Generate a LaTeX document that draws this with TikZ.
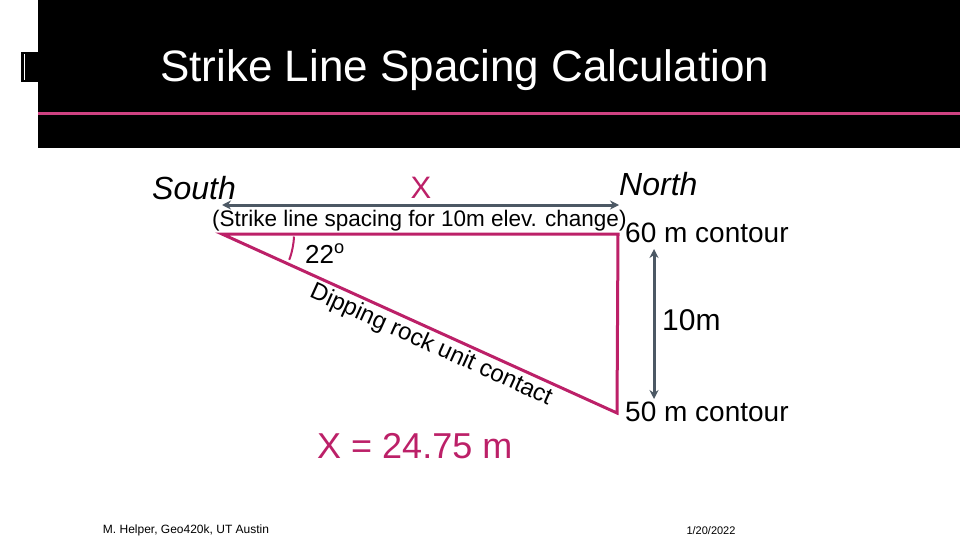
\documentclass[tikz,border=0pt]{standalone}
\usepackage{fontspec}
\setmainfont{Liberation Sans}
\usetikzlibrary{arrows.meta}
\definecolor{pinkline}{RGB}{206,66,130}
\definecolor{magentaC}{RGB}{188,32,104}
\definecolor{slate}{RGB}{76,88,100}
\tikzset{
  txt/.style={inner sep=0pt, anchor=base west},
  ctr/.style={inner sep=0pt, anchor=base},
  grayarrow/.style={slate, line width=3pt, {Stealth[length=9pt,width=9pt]}-{Stealth[length=9pt,width=9pt]}},
  triline/.style={magentaC, line width=3pt, line join=miter},
}
\begin{document}
\begin{tikzpicture}[x=1pt,y=-1pt]
\useasboundingbox (0,0) rectangle (960,540);
\fill[white] (0,0) rectangle (960,540);
% header band
\fill[black] (38,0) rectangle (960,148);
\draw[pinkline, line width=3pt] (38,114) -- (960,114);
\fill[black] (21,52) rectangle (38,82);
\draw[white, line width=1pt] (24.5,54) -- (24.5,80);
\node[txt, white, font=\fontsize{44}{44}\selectfont] (title) at (160,82) {Strike Line Spacing Calculation};
% top labels
\node[txt, font=\fontsize{32}{32}\selectfont\itshape] (south) at (152,199) {South};
\node[ctr, magentaC, font=\fontsize{31}{31}\selectfont] (xlab) at (421,198) {X};
\node[txt, font=\fontsize{32}{32}\selectfont\itshape] (north) at (619,196) {North};
% strike spacing arrow
\coordinate (sl) at (222,205);
\coordinate (sr) at (619,205);
\draw[grayarrow] (sl) -- (sr);
\node[txt, font=\fontsize{22.5}{22.5}\selectfont] (strike) at (212,226) {(Strike line spacing for 10m elev. change)};
% triangle
\coordinate (A) at (222,234);
\coordinate (B) at (618,234);
\coordinate (C) at (617,413);
\draw[triline] (A) -- (B) -- (C) -- cycle;
\draw[magentaC, line width=2pt] (A) ++(2:72) arc[start angle=2, end angle=21, radius=72];
\node[txt, font=\fontsize{26}{26}\selectfont] (ang) at (305,263) {22\textsuperscript{o}};
\path (A) -- (C) node[sloped, below, pos=0.545, inner sep=4pt, font=\fontsize{24}{24}\selectfont] (dip) {Dipping rock unit contact};
\node[txt, magentaC, font=\fontsize{36}{36}\selectfont] (xval) at (317,458) {X = 24.75 m};
% contours
\node[txt, font=\fontsize{28}{28}\selectfont] (c60) at (625,242) {60 m contour};
\node[txt, font=\fontsize{28}{28}\selectfont] (c50) at (625,421) {50 m contour};
\node[txt, font=\fontsize{30}{30}\selectfont] (ten) at (662,330) {10m};
\coordinate (vt) at (654,249);
\coordinate (vb) at (654,399);
\draw[grayarrow] (vt) -- (vb);
% footer
\node[ctr, font=\fontsize{12}{12}\selectfont] (auth) at (186,533) {M. Helper, Geo420k, UT Austin};
\node[ctr, font=\fontsize{11}{11}\selectfont] (date) at (711,534) {1/20/2022};
\end{tikzpicture}
\end{document}
